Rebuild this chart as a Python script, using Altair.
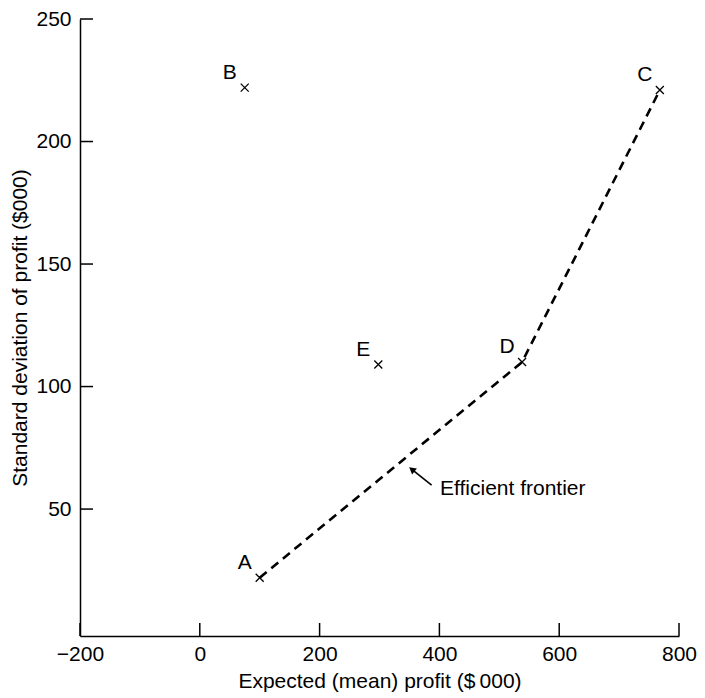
import altair as alt
import pandas as pd

# ---- data ----
labels = ["A", "B", "C", "D", "E"]
mean_profit = [100, 75, 768, 538, 298]
sd_profit = [22, 222, 221, 110, 109]

frontier_order = ["A", "D", "C"]

x_ticks = [-200, 0, 200, 400, 600, 800]
y_ticks = [50, 100, 150, 200, 250]

annot_text = "Efficient frontier"
annot_x = [401]
annot_y = [58]
arrow_x = [387, 354]
arrow_y = [59.8, 66.2]

FONT = "Liberation Sans"
FS = 21
W, H = 599, 617

pts = pd.DataFrame({"label": labels, "x": mean_profit, "y": sd_profit})
front = pts.set_index("label").loc[frontier_order].reset_index()
front["order"] = range(len(front))
xt = pd.DataFrame({"v": x_ticks})
yt = pd.DataFrame({"v": y_ticks})
ann = pd.DataFrame({"x": annot_x, "y": annot_y, "t": [annot_text]})
arr = pd.DataFrame({"x": arrow_x, "y": arrow_y, "o": [0, 1]})
head = arr.iloc[[1]]

xs = alt.Scale(domain=[-200, 800], nice=False, zero=False)
ys = alt.Scale(domain=[-1.8, 250], nice=False, zero=False)

x_axis = alt.Axis(values=x_ticks, ticks=False, grid=False, domainColor="black",
                  domainWidth=1.5, labelFont=FONT, labelFontSize=FS, labelColor="black",
                  labelPadding=7, title="Expected (mean) profit ($\u2009000)",
                  titleFont=FONT, titleFontSize=FS, titleFontWeight="normal",
                  titleColor="black", titlePadding=6, labelFlush=False)
y_axis = alt.Axis(values=y_ticks, ticks=False, grid=False, domainColor="black",
                  domainWidth=1.5, labelFont=FONT, labelFontSize=FS, labelColor="black",
                  labelPadding=9, title="Standard deviation of profit ($000)",
                  titleFont=FONT, titleFontSize=FS, titleFontWeight="normal",
                  titleColor="black", titlePadding=5, labelFlush=False)

base_x = alt.X("x:Q", scale=xs, axis=x_axis)
base_y = alt.Y("y:Q", scale=ys, axis=y_axis)

line = alt.Chart(front).mark_line(color="black", strokeWidth=2.6, strokeDash=[9, 6]).encode(
    x=base_x, y=base_y, order="order:Q")

markers = alt.Chart(pts).mark_point(
    shape="M-1,-1L1,1M-1,1L1,-1", size=64, filled=False, color="black",
    strokeWidth=1.3, opacity=1).encode(
    x=alt.X("x:Q", scale=xs), y=alt.Y("y:Q", scale=ys))

letters = alt.Chart(pts).mark_text(font=FONT, fontSize=FS, color="black", dx=-15, dy=-15,
                                    align="center", baseline="middle").encode(
    x=alt.X("x:Q", scale=xs), y=alt.Y("y:Q", scale=ys), text="label:N")

xtick = alt.Chart(xt).mark_rule(color="black", strokeWidth=1.5).encode(
    x=alt.X("v:Q", scale=xs), y=alt.value(H), y2=alt.value(H - 13))
ytick = alt.Chart(yt).mark_rule(color="black", strokeWidth=1.5).encode(
    y=alt.Y("v:Q", scale=ys), x=alt.value(0), x2=alt.value(13))

annot = alt.Chart(ann).mark_text(font=FONT, fontSize=FS, color="black", align="left",
                                 baseline="middle").encode(
    x=alt.X("x:Q", scale=xs), y=alt.Y("y:Q", scale=ys), text="t:N")

arrow_line = alt.Chart(arr).mark_line(color="black", strokeWidth=1.6).encode(
    x=alt.X("x:Q", scale=xs), y=alt.Y("y:Q", scale=ys), order="o:Q")
arrow_head = alt.Chart(head).mark_point(shape="triangle-up", size=60, filled=True,
                                        color="black", angle=308, opacity=1).encode(
    x=alt.X("x:Q", scale=xs), y=alt.Y("y:Q", scale=ys))

chart = alt.layer(line, xtick, ytick, markers, letters, annot, arrow_line, arrow_head).properties(
    width=W, height=H, autosize=alt.AutoSizeParams(type="none"),
    padding={"left": 72, "top": 11, "right": 18, "bottom": 62},
    background="white"
).configure_view(stroke=None)

chart.save("out.html", embed_options={"renderer": "svg", "actions": False})
